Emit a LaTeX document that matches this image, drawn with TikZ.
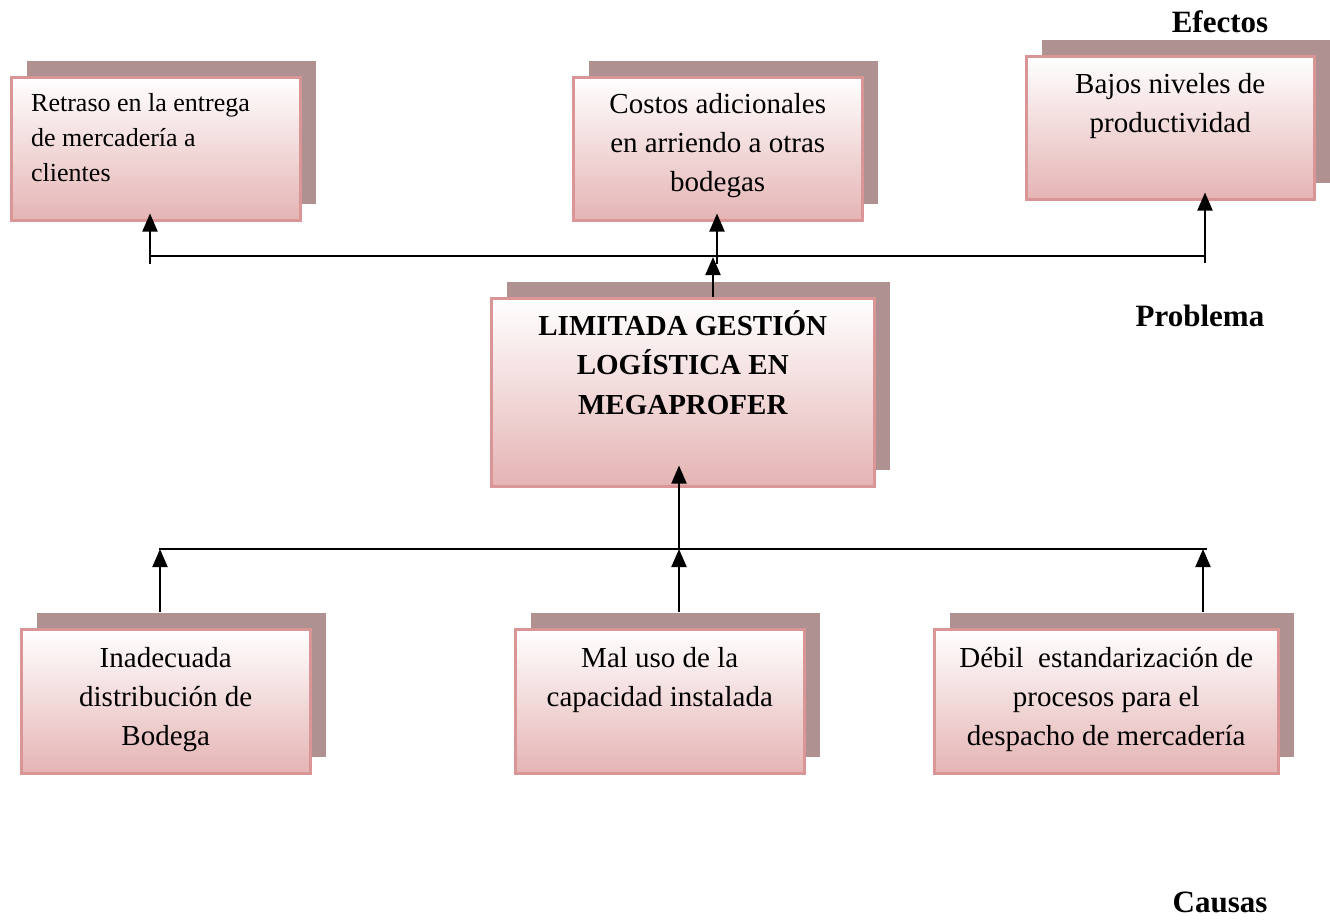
\documentclass[tikz,border=0pt]{standalone}
\usepackage{fontspec}
\setmainfont{Liberation Serif}
\usetikzlibrary{arrows.meta,shadows,calc}
\definecolor{shad}{RGB}{176,145,145}
\definecolor{bord}{RGB}{218,150,150}
\definecolor{pinkb}{RGB}{229,180,180}
\begin{document}
\begin{tikzpicture}[x=1pt,y=-1pt,
  box/.style={draw=bord, line width=2.5pt, top color=white, bottom color=pinkb,
    anchor=north west, inner sep=0pt,
    general shadow={fill=shad, shadow xshift=16pt, shadow yshift=16pt}},
  txt/.style={font=\fontsize{29}{39}\selectfont, inner sep=0pt, align=flush center, anchor=north},
  lab/.style={font=\fontsize{31}{37}\selectfont\bfseries, inner sep=0pt},
  ln/.style={line width=2pt, black},
  arr/.style={line width=2pt, black, -{Triangle[width=15pt,length=18pt]}}]
\useasboundingbox (0,0) rectangle (1330,919);

% boxes
\node[box, minimum width=289pt, minimum height=143pt] (e1) at (10,76) {};
\node[box, minimum width=289pt, minimum height=143pt] (e2) at (572,76) {};
\node[box, minimum width=288pt, minimum height=143pt] (e3) at (1025,55) {};
\node[box, minimum width=383pt, minimum height=188pt] (p) at (490,297) {};
\node[box, minimum width=289pt, minimum height=144pt] (c1) at (20,628) {};
\node[box, minimum width=289pt, minimum height=144pt] (c2) at (514,628) {};
\node[box, minimum width=344pt, minimum height=144pt] (c3) at (933,628) {};

% texts
\node[inner sep=0pt, anchor=north west, align=flush left, text width=265pt,
  font=\fontsize{26}{35}\selectfont] (e1t) at ([xshift=21pt,yshift=-10.5pt]e1.north west)
  {\strut Retraso en la entrega\\de mercadería a\\clientes};
\node[txt, text width=280pt] (e2t) at ([yshift=-10pt]e2.north)
  {\strut Costos adicionales\\en arriendo a otras\\bodegas};
\node[txt, text width=280pt] (e3t) at ([yshift=-11pt]e3.north)
  {\strut Bajos niveles de\\productividad};
\node[txt, text width=370pt, font=\fontsize{29}{39.5}\selectfont\bfseries] (pt) at ([yshift=-10.5pt]p.north)
  {\strut LIMITADA GESTIÓN\\LOGÍSTICA EN\\MEGAPROFER};
\node[txt, text width=280pt] (c1t) at ([yshift=-12pt]c1.north)
  {\strut Inadecuada\\distribución de\\Bodega};
\node[txt, text width=280pt] (c2t) at ([yshift=-12pt]c2.north)
  {\strut Mal uso de la\\capacidad instalada};
\node[txt, text width=340pt] (c3t) at ([yshift=-12pt]c3.north)
  {\strut Débil\ \ estandarización de\\procesos para el\\despacho de mercadería};

% section labels
\node[lab] (ef) at (1220,22) {Efectos};
\node[lab] (pr) at (1200,316) {Problema};
\node[lab] (ca) at (1220,902) {Causas};

% effects connectors
\coordinate (tl) at (150,256);
\coordinate (tr) at (1205,256);
\draw[ln] (tl) -- (tr);
\coordinate (a1) at (150,264);
\coordinate (a2) at (717,264);
\coordinate (a3) at (1205,263);
\draw[arr] (a1) -- ([yshift=8pt]a1 |- e1.south);
\draw[arr] (a2) -- ([yshift=8pt]a2 |- e2.south);
\draw[arr] (a3) -- ([yshift=8pt]a3 |- e3.south);
\coordinate (pa) at (713,257);
\draw[arr] (pa |- p.north) -- (pa);

% causes connectors
\coordinate (bl) at (159,549);
\coordinate (br) at (1207,549);
\draw[ln] (bl) -- (br);
\coordinate (b1) at (160,549);
\coordinate (b2) at (679,549);
\coordinate (b3) at (1203,549);
\draw[arr] ([yshift=16pt]b1 |- c1.north) -- (b1);
\draw[arr] ([yshift=16pt]b2 |- c2.north) -- (b2);
\draw[arr] ([yshift=16pt]b3 |- c3.north) -- (b3);
\draw[arr] (b2) -- ([yshift=22pt]b2 |- p.south);
\end{tikzpicture}
\end{document}
